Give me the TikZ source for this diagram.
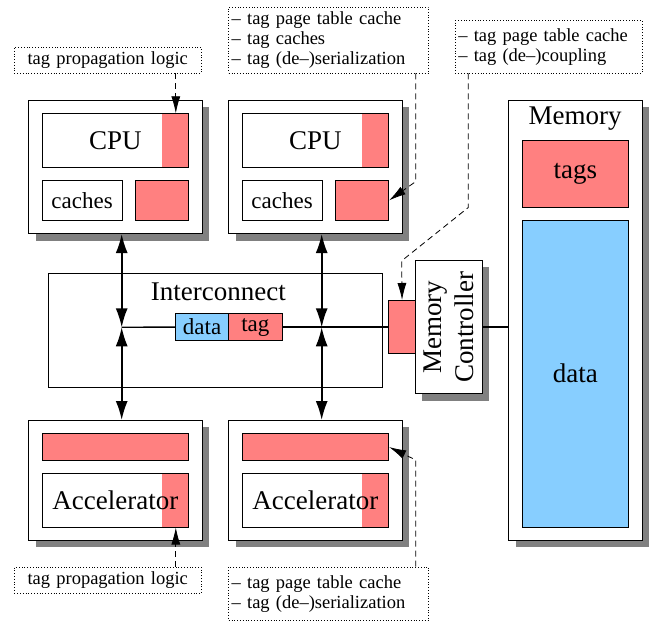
\documentclass[tikz,border=0pt]{standalone}
\usepackage{fontspec}
\setmainfont{Liberation Serif}
\usetikzlibrary{arrows.meta,shadows}
\definecolor{tagred}{HTML}{FF8080}
\definecolor{datablue}{HTML}{87CEFF}
\definecolor{shadowgray}{HTML}{808080}
\tikzset{
  box/.style={draw, line width=0.8pt, fill=white, inner sep=0pt, anchor=north west},
  unitbox/.style={box, drop shadow={shadow xshift=7pt, shadow yshift=-7pt, fill=shadowgray, opacity=1}},
  notebox/.style={draw, dotted, line width=0.8pt, inner sep=3pt, anchor=north west, font=\fontsize{18.5}{20}\selectfont},
  redpart/.style={path picture={\fill[tagred] ([xshift=-26.6pt]path picture bounding box.north east) rectangle (path picture bounding box.south east);}},
  bigfont/.style={font=\fontsize{27}{32}\selectfont},
  midfont/.style={font=\fontsize{23}{26}\selectfont},
  annot/.style={dash pattern=on 6pt off 4pt, line width=0.8pt, -{Latex[length=17pt,width=9pt]}},
  busarrow/.style={line width=1.6pt, {Latex[length=19pt,width=12pt]}-{Latex[length=19pt,width=12pt]}},
  bus/.style={line width=1.4pt}
}
\begin{document}
\begin{tikzpicture}[x=1pt, y=-1pt]
\useasboundingbox (0,0) rectangle (656,623);
% processors
\node[unitbox, minimum width=173.4, minimum height=133.3] (cpu0) at (28.3,100){};
\node[box, redpart, bigfont, minimum width=146.6, minimum height=53.4] (cpuin0) at (41.7,113.3){CPU};
\node[box, midfont, minimum width=80, minimum height=40] (caches0) at (41.7,180){caches};
\node[box, fill=tagred, minimum width=53.3, minimum height=40] (tagc0) at (135,180){};
\node[unitbox, minimum width=173.4, minimum height=133.3] (cpu1) at (228.3,100){};
\node[box, redpart, bigfont, minimum width=146.6, minimum height=53.4] (cpuin1) at (241.7,113.3){CPU};
\node[box, midfont, minimum width=80, minimum height=40] (caches1) at (241.7,180){caches};
\node[box, fill=tagred, minimum width=53.3, minimum height=40] (tagc1) at (335,180){};
% accelerators
\node[unitbox, minimum width=173.4, minimum height=120] (acc0) at (28.3,420){};
\node[box, fill=tagred, minimum width=146.6, minimum height=26.7] (accbar0) at (41.7,433.3){};
\node[box, redpart, bigfont, minimum width=146.6, minimum height=53.4] (accin0) at (41.7,473.3){Accelerator};
\node[unitbox, minimum width=173.4, minimum height=120] (acc1) at (228.3,420){};
\node[box, fill=tagred, minimum width=146.6, minimum height=26.7] (accbar1) at (241.7,433.3){};
\node[box, redpart, bigfont, minimum width=146.6, minimum height=53.4] (accin1) at (241.7,473.3){Accelerator};
% interconnect
\node[box, minimum width=333.4, minimum height=113.4] (ic) at (48.3,273.3){};
\node[bigfont] (iclabel) at (218.3,292){Interconnect};
\node[box, fill=datablue, midfont, minimum width=53.3, minimum height=26.7] (data) at (175,313.3){data};
\node[box, fill=tagred, midfont, minimum width=53.3, minimum height=26.7] (tag) at (228.3,313.3){tag};
\coordinate (jl) at (121.7,327.3);
\coordinate (jr) at (321.7,327.3);
% memory side
\node[box, fill=tagred, minimum width=26.7, minimum height=53.3] (mctag) at (388.3,300){};
\node[unitbox, minimum width=66.7, minimum height=133.3] (mc) at (415,260){};
\node[bigfont, rotate=90, align=center] (mclabel) at (mc.center){Memory\\Controller};
\node[unitbox, minimum width=133.4, minimum height=440] (mem) at (508.3,100){};
\node[bigfont] (memlabel) at (575,119){Memory};
\node[box, fill=tagred, bigfont, minimum width=106.6, minimum height=66.7] (memtags) at (521.7,140){tags};
\node[box, fill=datablue, bigfont, minimum width=106.6, minimum height=306.7] (memdata) at (521.7,220){data};
% connections
\draw[busarrow] (cpu0.south -| jl) -- (jl);
\draw[busarrow] (jl) -- (acc0.north -| jl);
\draw[busarrow] (cpu1.south -| jr) -- (jr);
\draw[busarrow] (jr) -- (acc1.north -| jr);
\draw[bus] (jl) -- (data.west);
\draw[bus] (tag.east) -- (mctag.west);
\draw[bus] (mc.east) -- (mc.east -| mem.west);
% annotations
\node[notebox, align=center, text width=180.7, minimum height=26] (prop0) at (14,46.7){tag propagation logic};
\node[notebox, align=left, text width=194, minimum height=66] (note1) at (228.3,6.7){– tag page table cache\\– tag caches\\– tag (de–)serialization};
\node[notebox, align=left, text width=180.7, minimum height=52.7] (note2) at (455,20){– tag page table cache\\– tag (de–)coupling};
\node[notebox, align=center, text width=180.7, minimum height=26.6] (prop2) at (14,566.7){tag propagation logic};
\node[notebox, align=left, text width=194, minimum height=53.3] (note3) at (228.3,566.7){– tag page table cache\\– tag (de–)serialization};
\coordinate (t0) at ([xshift=-13.3pt]cpuin0.north east);
\coordinate (t2) at ([xshift=-13.3pt]accin0.south east);
\draw[annot] (prop0.south -| t0) -- (t0);
\draw[annot] (prop2.north -| t2) -- (t2);
\draw[annot] ([xshift=-13.3pt]note1.south east) -- ++(0,108) -- (tagc1.east);
\draw[annot] ([xshift=13.3pt]note2.south west) -- ++(0,134) -- ++(-66.6,53.3) -- (mctag.north);
\draw[annot] ([xshift=-13.3pt]note3.north east) -- ++(0,-106.7) -- (accbar1.east);
\end{tikzpicture}
\end{document}
